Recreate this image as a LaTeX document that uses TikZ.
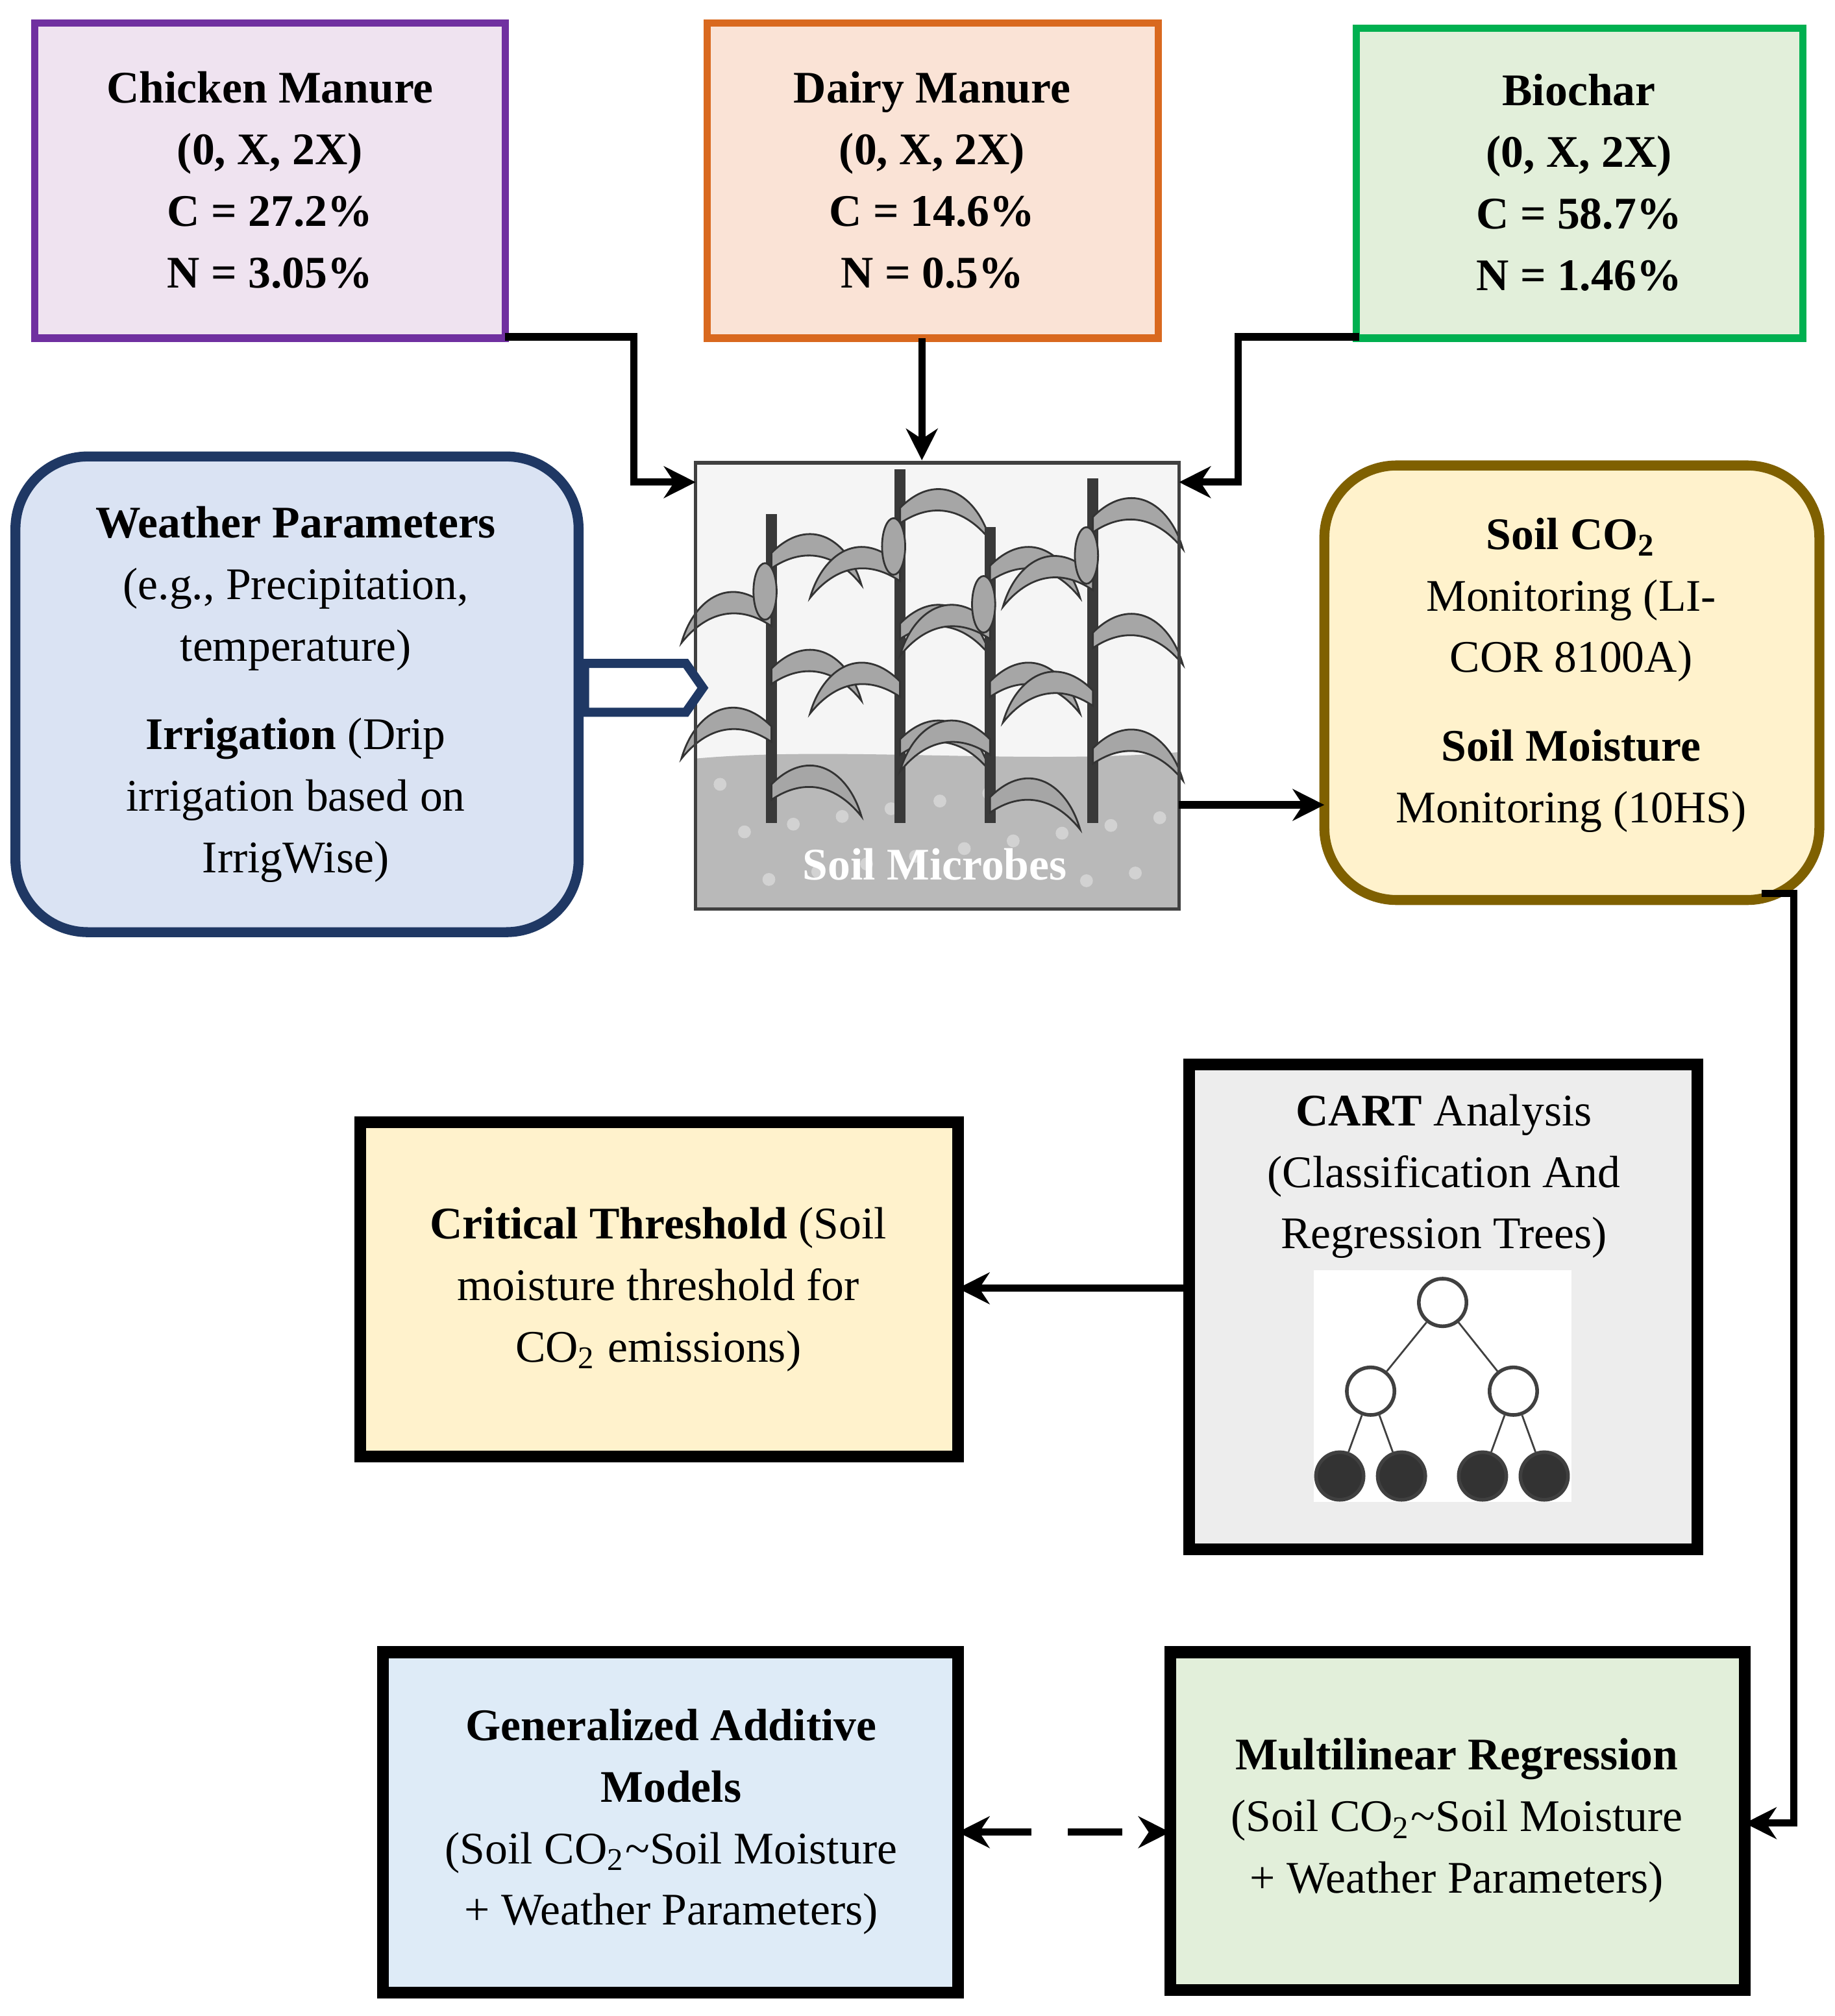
\documentclass[tikz,border=0pt]{standalone}
\usepackage{fontspec}
\setmainfont{Liberation Serif}
\usetikzlibrary{arrows.meta,shapes.arrows}
\definecolor{purp}{HTML}{7030A0}\definecolor{purpf}{HTML}{EFE3F0}
\definecolor{orng}{HTML}{D9691F}\definecolor{orngf}{HTML}{FAE3D6}
\definecolor{grn}{HTML}{00B050}\definecolor{grnf}{HTML}{E2EFDA}
\definecolor{dblue}{HTML}{1F3864}\definecolor{bluef}{HTML}{DAE3F3}
\definecolor{gold}{HTML}{7F6000}\definecolor{yelf}{HTML}{FFF2CC}
\definecolor{lblue}{HTML}{DEEBF7}\definecolor{grayf}{HTML}{EDEDED}
\tikzset{
 txt/.style={font=\fontsize{10}{13.6}\selectfont,align=center,text=black},
 bbox/.style={draw=black,line width=2.6pt},
 arr/.style={line width=1.6pt,-{Stealth[length=7pt,width=7pt]}},
 leaf/.style={fill=gray!70,draw=gray!40!black,line width=0.4pt},
 tn/.style={circle,draw=gray!50!black,line width=0.8pt,minimum size=0.37cm,inner sep=0pt}
}
\begin{document}
\begin{tikzpicture}[x=0.01cm,y=-0.01cm]
\useasboundingbox (0,0) rectangle (1427,1568);
% top boxes
\fill[purpf] (27,18) rectangle (393,263); \draw[purp,line width=1.6pt] (27,18) rectangle (393,263);
\node[txt] (ckt) at (210,140) {\textbf{Chicken Manure}\\\textbf{(0, X, 2X)}\\\textbf{C = 27.2\%}\\\textbf{N = 3.05\%}};
\fill[orngf] (550,18) rectangle (901,263); \draw[orng,line width=1.6pt] (550,18) rectangle (901,263);
\node[txt] (dm) at (725,140) {\textbf{Dairy Manure}\\\textbf{(0, X, 2X)}\\\textbf{C = 14.6\%}\\\textbf{N = 0.5\%}};
\fill[grnf] (1055,22) rectangle (1402,263); \draw[grn,line width=1.6pt] (1055,22) rectangle (1402,263);
\node[txt] (bc) at (1228,142) {\textbf{Biochar}\\\textbf{(0, X, 2X)}\\\textbf{C = 58.7\%}\\\textbf{N = 1.46\%}};
\coordinate (ckc) at (393,262); \coordinate (dmc) at (717,263); \coordinate (bcc) at (1057,262);
% weather
\draw[dblue,fill=bluef,line width=2.2pt,rounded corners=16pt] (12,355) rectangle (450,725);
\node[txt] (w) at (230,540) {\textbf{Weather Parameters}\\(e.g., Precipitation,\\temperature)\\[6pt]\textbf{Irrigation} (Drip\\irrigation based on\\IrrigWise)};
% plant image
\fill[gray!8] (541,360) rectangle (917,707);
\fill[gray!55] (541,590) .. controls (650,580) and (800,595) .. (917,585) -- (917,707) -- (541,707) -- cycle;
\foreach \i in {0,...,18}{\fill[gray!35] ({560+\i*19},{610+mod(\i*37,80)}) circle (5);}
\foreach \x/\t in {600/400,700/365,770/410,850/372}{
 \draw[gray!45!black,line width=2.5pt] (\x,640) -- (\x,\t);
 \foreach \y/\s in {0/1,1/-1,2/1,3/-1,4/1}{
  \pgfmathsetmacro\yy{\t+30+\y*45}
  \filldraw[leaf] (\x,\yy) .. controls ({\x+\s*30},{\yy-30}) and ({\x+\s*60},{\yy-10}) .. ({\x+\s*70},{\yy+25}) .. controls ({\x+\s*50},{\yy}) and ({\x+\s*25},{\yy-5}) .. (\x,{\yy+12}) -- cycle;}
 \filldraw[leaf] (\x-5,\t+60) ellipse (9 and 22);
}
\draw[gray!50!black,line width=0.8pt] (541,360) rectangle (917,707);
\node[txt,text=white] (sm) at (727,672) {\textbf{Soil Microbes}};
% soil co2
\draw[gold,fill=yelf,line width=2.2pt,rounded corners=16pt] (1030,362) rectangle (1415,700);
\node[txt] (co) at (1222,525) {\textbf{Soil CO\textsubscript{2}}\\Monitoring (LI-\\COR 8100A)\\[6pt]\textbf{Soil Moisture}\\Monitoring (10HS)};
% CART
\draw[bbox,fill=grayf] (925,828) rectangle (1320,1205);
\node[txt] (ca) at (1123,915) {\textbf{CART} Analysis\\(Classification And\\Regression Trees)};
\fill[white] (1022,988) rectangle (1222,1168);
\node[tn,fill=white] (t0) at (1122,1013) {};
\node[tn,fill=white] (t1) at (1066,1082) {};
\node[tn,fill=white] (t2) at (1177,1082) {};
\foreach \n/\x in {a/1042,b/1090,c/1153,d/1201}{\node[tn,fill=gray!40!black] (l\n) at (\x,1148) {};}
\draw[gray!50!black] (t0)--(t1) (t0)--(t2) (t1)--(la) (t1)--(lb) (t2)--(lc) (t2)--(ld);
% critical
\draw[bbox,fill=yelf] (280,873) rectangle (745,1133);
\node[txt] (cr) at (512,1003) {\textbf{Critical Threshold} (Soil\\moisture threshold for\\CO\textsubscript{2} emissions)};
% GAM
\draw[bbox,fill=lblue] (298,1285) rectangle (745,1550);
\node[txt] (gam) at (522,1417) {\textbf{Generalized Additive}\\\textbf{Models}\\(Soil CO\textsubscript{2}\textasciitilde Soil Moisture\\+ Weather Parameters)};
% MLR
\draw[bbox,fill=grnf] (910,1285) rectangle (1357,1548);
\node[txt] (mlr) at (1133,1416) {\textbf{Multilinear Regression}\\(Soil CO\textsubscript{2}\textasciitilde Soil Moisture\\+ Weather Parameters)};
% arrows
\draw[arr] (ckc) -- (493,262) -- (493,375) -- (541,375);
\draw[arr] (dmc) -- (717,358);
\draw[arr] (bcc) -- (963,262) -- (963,375) -- (917,375);
\node[single arrow,draw=dblue,fill=white,line width=2pt,minimum height=0.92cm,minimum width=0.38cm,single arrow head extend=0pt,single arrow tip angle=110,inner sep=0pt] (wa) at (494,535) {};
\draw[arr] (917,626) -- (1030,626);
\draw[arr] (1370,695) -- (1395,695) -- (1395,1418) -- (1357,1418);
\draw[arr] (925,1002) -- (745,1002);
\draw[line width=1.6pt,dash pattern=on 12pt off 8pt,{Stealth[length=7pt,width=7pt]}-{Stealth[length=7pt,width=7pt]}] (745,1425) -- (910,1425);
\end{tikzpicture}
\end{document}
